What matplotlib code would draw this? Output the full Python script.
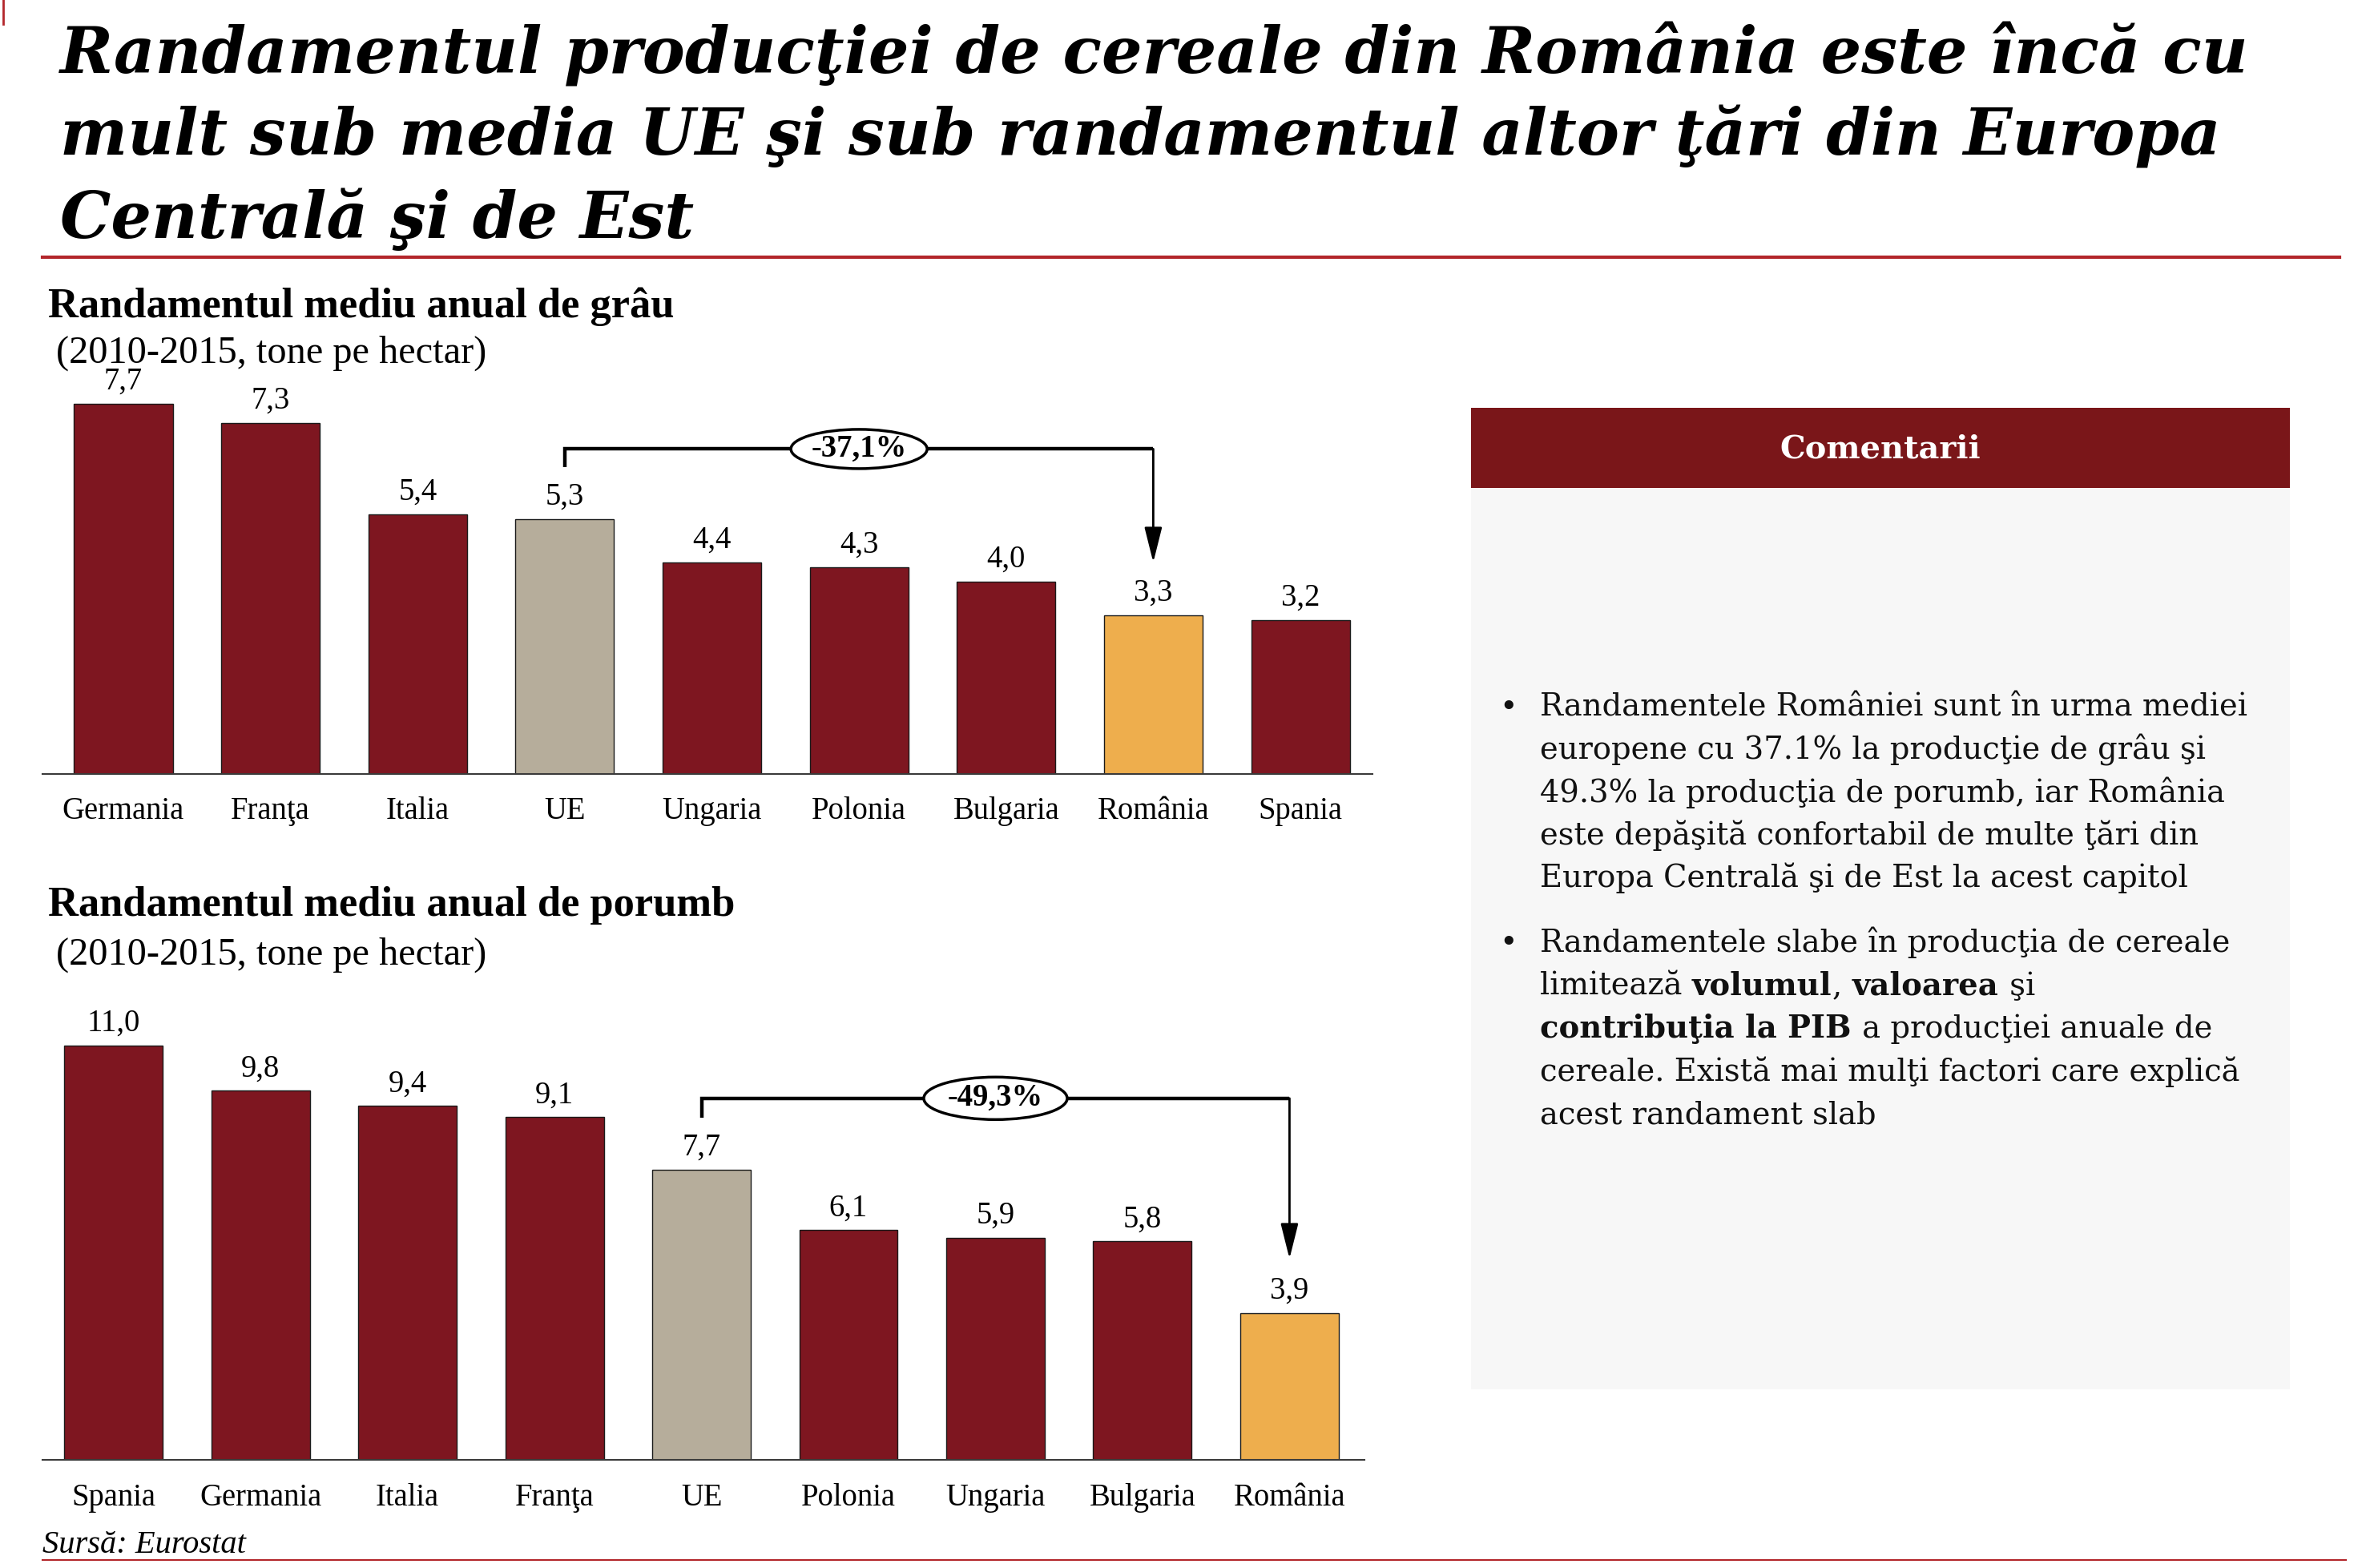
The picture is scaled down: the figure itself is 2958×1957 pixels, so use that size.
import matplotlib
matplotlib.use('Agg')
import matplotlib.pyplot as plt
from matplotlib.patches import Ellipse, Rectangle
from matplotlib.lines import Line2D

# ---------------- data ----------------
title_lines = [
    "Randamentul producţiei de cereale din România este încă cu",
    "mult sub media UE şi sub randamentul altor ţări din Europa",
    "Centrală şi de Est",
]
wheat_title = "Randamentul mediu anual de grâu"
corn_title = "Randamentul mediu anual de porumb"
unit_label = "(2010-2015, tone pe hectar)"

wheat_countries = ['Germania', 'Franţa', 'Italia', 'UE', 'Ungaria', 'Polonia',
                   'Bulgaria', 'România', 'Spania']
wheat_values = [7.7, 7.3, 5.4, 5.3, 4.4, 4.3, 4.0, 3.3, 3.2]
wheat_gap = '-37,1%'

corn_countries = ['Spania', 'Germania', 'Italia', 'Franţa', 'UE', 'Polonia',
                  'Ungaria', 'Bulgaria', 'România']
corn_values = [11.0, 9.8, 9.4, 9.1, 7.7, 6.1, 5.9, 5.8, 3.9]
corn_gap = '-49,3%'

comment_header = "Comentarii"
bullet1 = [
    [("Randamentele României sunt în urma mediei", False)],
    [("europene cu 37.1% la producţie de grâu şi", False)],
    [("49.3% la producţia de porumb, iar România", False)],
    [("este depăşită confortabil de multe ţări din", False)],
    [("Europa Centrală şi de Est la acest capitol", False)],
]
bullet2 = [
    [("Randamentele slabe în producţia de cereale", False)],
    [("limitează ", False), ("volumul", True), (", ", False), ("valoarea", True), (" şi", False)],
    [("contribuţia la PIB", True), (" a producţiei anuale de", False)],
    [("cereale. Există mai mulţi factori care explică", False)],
    [("acest randament slab", False)],
]
source_text = "Sursă: Eurostat"

# ---------------- style ----------------
RED = '#7E1620'
GREY = '#B6AD9B'
ORANGE = '#EEAE4D'
HEADER = '#7A1619'
BODY = '#F7F7F7'
RULE = '#B3262B'
CHART_FONT = 'Liberation Serif'
TEXT_FONT = 'DejaVu Serif'

W, H = 2958, 1957
DPI = 100
fig = plt.figure(figsize=(W / DPI, H / DPI), dpi=DPI)
fig.patch.set_facecolor('white')
renderer = fig.canvas.get_renderer()


def fx(x):
    return x / W


def fy(y):
    return 1 - y / H


def width_of(t):
    return t.get_window_extent(renderer).width


def ftext(x, y, s, target_w=None, **kw):
    t = fig.text(fx(x), fy(y), s, **kw)
    if target_w:
        t.set_fontsize(t.get_fontsize() * target_w / width_of(t))
    return t


# top-left small red tick
fig.add_artist(Line2D([fx(4), fx(4)], [fy(0), fy(30)], color=RULE, lw=2))

# title
t0 = ftext(75, 91, title_lines[0], target_w=2736, family=TEXT_FONT, weight='bold',
           style='italic', fontsize=50, va='baseline')
tsize = t0.get_fontsize()
for i, line in enumerate(title_lines[1:], start=1):
    ftext(75, 91 + 103 * i, line, family=TEXT_FONT, weight='bold', style='italic',
          fontsize=tsize, va='baseline')
fig.add_artist(Line2D([fx(53), fx(2920)], [fy(321), fy(321)], color=RULE, lw=3))

# subtitles
s1 = ftext(60, 396, wheat_title, target_w=781, family=CHART_FONT, weight='bold',
           fontsize=30, va='baseline')
u1 = ftext(70, 453, unit_label, target_w=537, family=CHART_FONT, fontsize=30, va='baseline')
ftext(60, 1143, corn_title, family=CHART_FONT, weight='bold', fontsize=s1.get_fontsize(),
      va='baseline')
ftext(70, 1204, unit_label, family=CHART_FONT, fontsize=u1.get_fontsize(), va='baseline')

# label font size from "Germania" width
probe = fig.text(0, 0, 'Germania', family=CHART_FONT, fontsize=20)
LABEL_FS = 20 * 153 / width_of(probe)
probe.remove()


def bar_colors(cats):
    return [GREY if c == 'UE' else ORANGE if c == 'România' else RED for c in cats]


def make_chart(rect_px, xlim, ylim, cats, vals, lab_off):
    left, right, top, bottom = rect_px
    ax = fig.add_axes([fx(left), fy(bottom), (right - left) / W, (bottom - top) / H])
    x = list(range(len(cats)))
    ax.bar(x, vals, width=0.67, color=bar_colors(cats), edgecolor='#1a1a1a', linewidth=1.0,
           zorder=2)
    ax.set_xlim(*xlim)
    ax.set_ylim(*ylim)
    for s in ['top', 'right', 'left']:
        ax.spines[s].set_visible(False)
    ax.spines['bottom'].set_color('#3a3a3a')
    ax.spines['bottom'].set_linewidth(1.5)
    ax.set_xticks([])
    ax.set_yticks([])
    ax.patch.set_alpha(0)
    for i, (c, v) in enumerate(zip(cats, vals)):
        ax.annotate(f'{v:.1f}'.replace('.', ','), (i, v), xytext=(0, 13),
                    textcoords='offset points', ha='center', va='baseline',
                    family=CHART_FONT, fontsize=LABEL_FS, annotation_clip=False)
        ax.annotate(c, (i, 0), xycoords=('data', 'axes fraction'), xytext=(0, -lab_off),
                    textcoords='offset points', ha='center', va='baseline',
                    family=CHART_FONT, fontsize=LABEL_FS, annotation_clip=False)
    return ax


def bracket(ax, x0, x1, y_low, y_line, y_tip, xc, label, ell_w_px, ell_h_px):
    ax.plot([x0, x0, x1], [y_low, y_line, y_line], color='black', lw=3.2,
            solid_joinstyle='miter', solid_capstyle='butt', clip_on=False, zorder=3)
    ax.annotate('', xy=(x1, y_tip), xytext=(x1, y_line),
                arrowprops=dict(arrowstyle='-|>,head_length=0.6,head_width=0.15',
                                lw=2.0, color='black', mutation_scale=45,
                                shrinkA=0, shrinkB=0), annotation_clip=False, zorder=3)
    p0 = ax.transData.transform((0, 0))
    p1 = ax.transData.transform((1, 1))
    ux, uy = p1[0] - p0[0], p1[1] - p0[1]
    e = Ellipse((xc, y_line), ell_w_px / ux, ell_h_px / uy, facecolor='white',
                edgecolor='black', lw=2.5, zorder=4, clip_on=False)
    ax.add_patch(e)
    ax.text(xc, y_line, label, ha='center', va='center', family=CHART_FONT,
            weight='bold', fontsize=LABEL_FS, zorder=5)


ax1 = make_chart((53, 1713, 426, 966), (-0.55, 8.49), (0, 9), wheat_countries, wheat_values, 40)
bracket(ax1, 3, 7, 6.38, 6.76, 4.40, 5, wheat_gap, 170, 49)

ax2 = make_chart((53, 1703, 1258, 1822), (-0.483, 8.51), (0, 12), corn_countries, corn_values, 41)
bracket(ax2, 4, 8, 9.08, 9.60, 5.34, 6, corn_gap, 179, 53)

# comment box
fig.add_artist(Rectangle((fx(1836), fy(609)), (2858 - 1836) / W, (609 - 509) / H,
                         transform=fig.transFigure, facecolor=HEADER, edgecolor='none'))
fig.add_artist(Rectangle((fx(1836), fy(1734)), (2858 - 1836) / W, (1734 - 609) / H,
                         transform=fig.transFigure, facecolor=BODY, edgecolor='none'))

probe = fig.text(0, 0, bullet1[0][0][0], family=TEXT_FONT, fontsize=20)
BODY_FS = 20 * 883 / width_of(probe)
probe.remove()

hdr = ftext((1836 + 2858) / 2, 560, comment_header, target_w=251, family=TEXT_FONT,
            weight='bold', fontsize=BODY_FS, color='white', ha='center', va='center')

bar_probe = fig.text(0, 0, '|', family=TEXT_FONT, fontsize=BODY_FS)
bar_w = width_of(bar_probe)
bar_probe.remove()


def run_width(s, bold):
    t = fig.text(0, 0, s + '|', family=TEXT_FONT, fontsize=BODY_FS,
                 weight='bold' if bold else 'normal')
    w = width_of(t) - bar_w
    t.remove()
    return w


def draw_bullet(lines, y0, step):
    ftext(1871, y0, '•', family=TEXT_FONT, fontsize=BODY_FS, va='baseline', color='#111111')
    for k, line in enumerate(lines):
        x = 1922
        y = y0 + step * k
        for s, bold in line:
            ftext(x, y, s, family=TEXT_FONT, fontsize=BODY_FS, va='baseline',
                  weight='bold' if bold else 'normal', color='#111111')
            x += run_width(s, bold)


draw_bullet(bullet1, 894, 53.3)
draw_bullet(bullet2, 1188, 53.7)

# source and bottom rule
ftext(53, 1938, source_text, target_w=254, family=CHART_FONT, style='italic',
      fontsize=26, va='baseline')
fig.add_artist(Line2D([fx(53), fx(2928)], [fy(1947), fy(1947)], color=RULE, lw=1.5))

fig.savefig('out.png', dpi=DPI, facecolor='white')
